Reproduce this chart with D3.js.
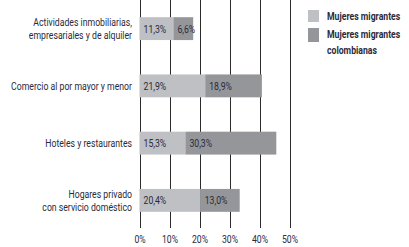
<!DOCTYPE html>
<html><head><meta charset="utf-8">
<script src="https://cdn.jsdelivr.net/npm/d3@7"></script>
<style>
body{margin:0;background:#fff;}
text{font-family:"Roboto","Liberation Sans",sans-serif;fill:#2a2a3a;}
</style></head>
<body><svg id="c" width="409" height="247"></svg>
<script>
const categories = [
  ["Actividades inmobiliarias,","empresariales y de alquiler"],
  ["Comercio al por mayor y menor"],
  ["Hoteles y restaurantes"],
  ["Hogares privado","con servicio doméstico"]
];
const seriesNames = ["Mujeres migrantes", "Mujeres migrantes colombianas"];
const migrantes = [11.3, 21.9, 15.3, 20.4];
const colombianas = [6.6, 18.9, 30.3, 13.0];
const ticks = [0, 10, 20, 30, 40, 50];
const colors = ["#bfc0c3", "#95969a"];

const FS = 11;
const svg = d3.select("#c");
const x = d3.scaleLinear().domain([0, 50]).range([139.5, 289.5]);
const y = d3.scaleBand().domain(d3.range(categories.length)).range([0, 229]).paddingInner(0.6).paddingOuter(0.3);
const fmt = v => v.toFixed(1).replace(".", ",") + "%";

// measure condensing factor
const probe = svg.append("text").attr("font-size", FS).text("Comercio al por mayor y menor");
const f = 121 / probe.node().getComputedTextLength();
probe.remove();
const sx = v => v / f;

// grid
svg.append("g").selectAll("line").data(ticks).join("line")
  .attr("x1", d => Math.round(x(d)) + 0.5).attr("x2", d => Math.round(x(d)) + 0.5)
  .attr("y1", 0).attr("y2", 228)
  .attr("stroke", "#2b2b2b").attr("stroke-width", 1);

const axis = d3.axisBottom(x).tickValues(ticks).tickSize(0).tickPadding(0).tickFormat(d => d + "%");
const ax = svg.append("g").attr("transform", "translate(0,235)").call(axis);
ax.select(".domain").remove();
ax.selectAll("text").attr("font-size", FS).attr("font-family", null).attr("dy", "0.71em")
  .attr("transform", `scale(${f},1)`).style("fill", "#2a2a3a");

const g = svg.append("g");
categories.forEach((cat, i) => {
  const y0 = y(i), h = y.bandwidth();
  const a = migrantes[i], b = colombianas[i];
  g.append("rect").attr("x", x(0)).attr("y", y0).attr("width", x(a) - x(0)).attr("height", h)
    .attr("fill", colors[0]);
  g.append("rect").attr("x", x(a)).attr("y", y0).attr("width", x(a + b) - x(a)).attr("height", h)
    .attr("fill", colors[1]);
  g.append("text").attr("transform", `scale(${f},1)`).attr("x", sx(x(0) + 4)).attr("y", y0 + h / 2).attr("dy", "0.36em")
    .attr("font-size", FS).text(fmt(a));
  g.append("text").attr("transform", `scale(${f},1)`).attr("x", sx(x(a) + 4)).attr("y", y0 + h / 2).attr("dy", "0.36em")
    .attr("font-size", FS).text(fmt(b));
  const t = g.append("text").attr("transform", `scale(${f},1)`).attr("text-anchor", "end").attr("font-size", FS);
  const n = cat.length;
  cat.forEach((line, k) => {
    t.append("tspan").attr("x", sx(132)).attr("y", y0 + h / 2 + (k - (n - 1) / 2) * 13).attr("dy", "0.36em").text(line);
  });
});

// legend
const lg = svg.append("g");
const legLines = [["Mujeres migrantes"], ["Mujeres migrantes", "colombianas"]];
const legY = [10, 28];
legLines.forEach((lines, i) => {
  lg.append("rect").attr("x", 308).attr("y", legY[i]).attr("width", 11).attr("height", i === 0 ? 12 : 14).attr("fill", colors[i]);
  lines.forEach((l, k) => {
    lg.append("text").attr("transform", `scale(${f},1)`).attr("x", sx(327)).attr("y", legY[i] + 6 + k * 16).attr("dy", "0.36em")
      .attr("font-size", FS).attr("font-weight", "bold").text(l);
  });
});
</script></body></html>
